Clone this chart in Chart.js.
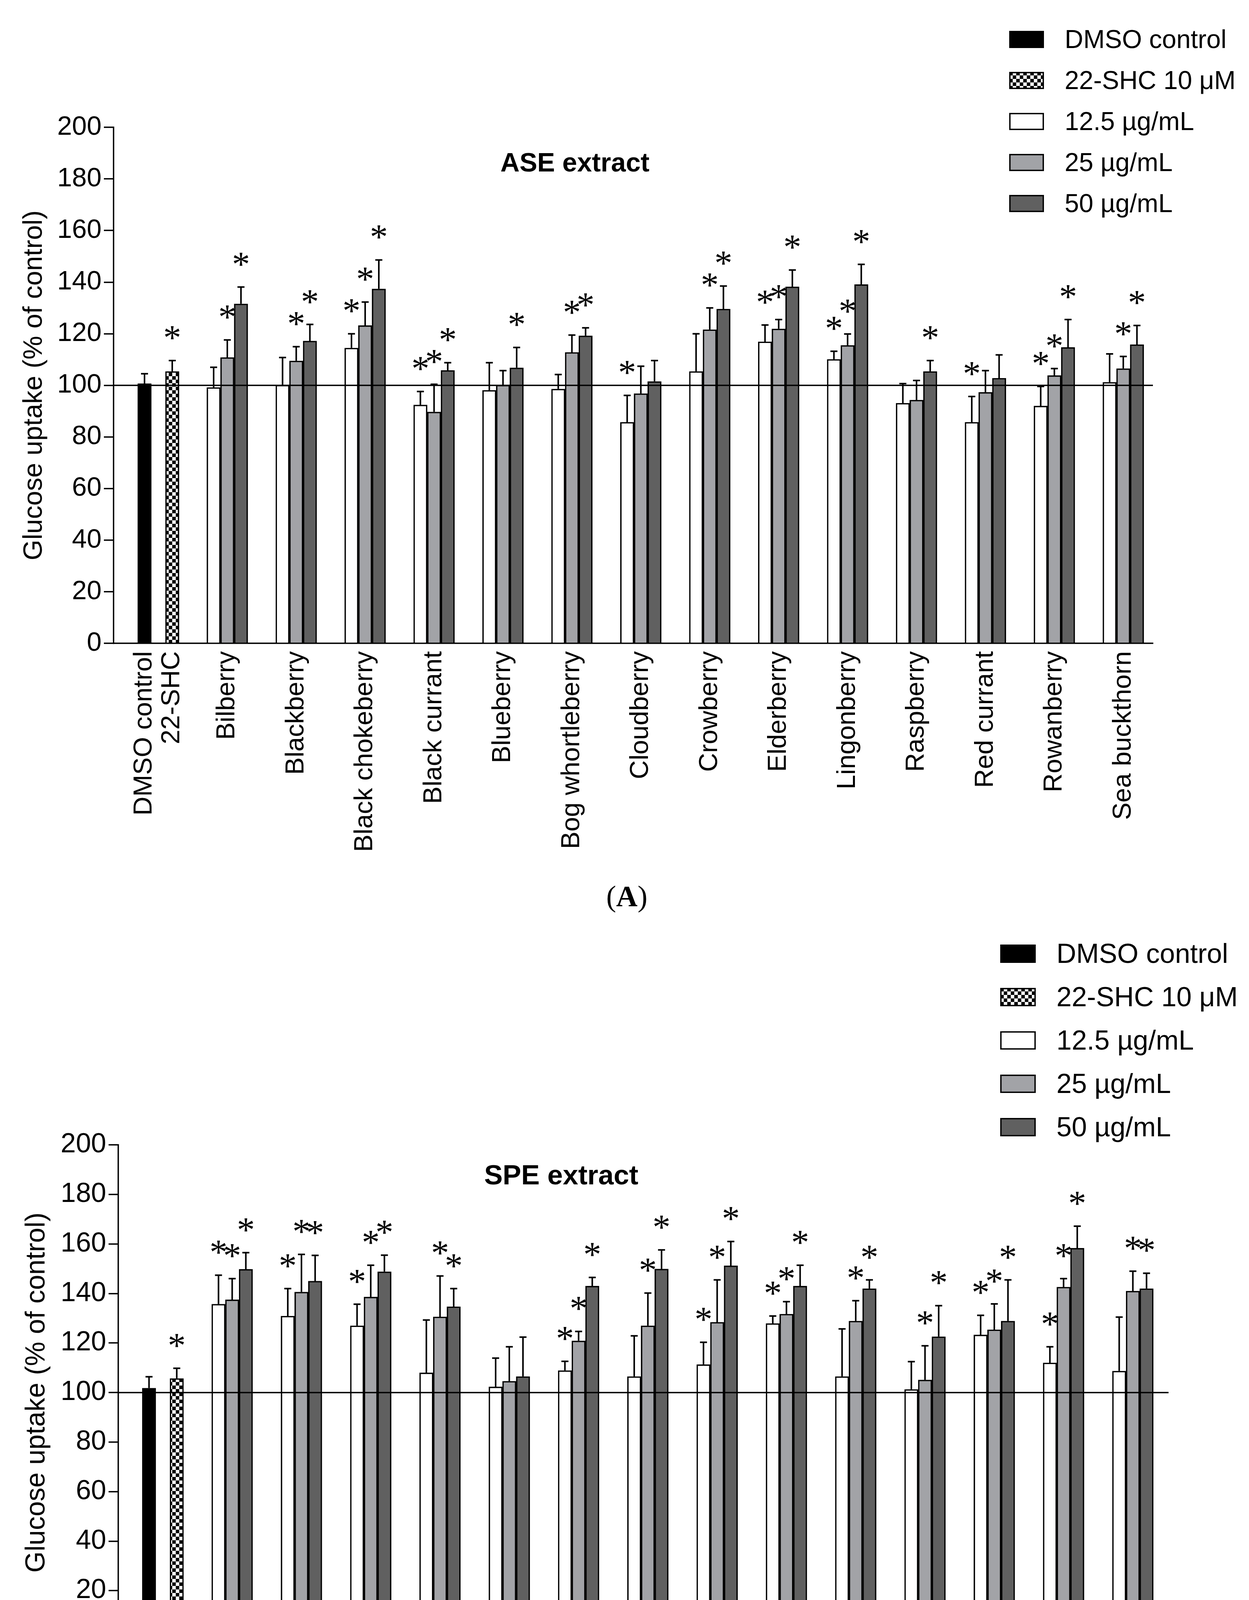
<!DOCTYPE html>
<html>
<head>
<meta charset="utf-8">
<script src="https://cdn.jsdelivr.net/npm/chart.js@4.4.1/dist/chart.umd.min.js"></script>
<style>
  body { margin: 0; background: #fff; }
  #page { position: relative; width: 3198px; height: 4947px; overflow: hidden; background: #fff;
          font-family: "Liberation Sans", Arial, sans-serif; color: #000; }
  canvas { position: absolute; left: 0; }
  .txt { position: absolute; white-space: nowrap; line-height: 1.2; }
</style>
</head>
<body>
<div id="page">
  <canvas id="chartA" width="3198" height="2230" style="top:0px"></canvas>
  <canvas id="chartB" width="3198" height="2440" style="top:2350px"></canvas>
</div>
<script>
const berries = ['Bilberry', 'Blackberry', 'Black chokeberry', 'Black currant', 'Blueberry', 'Bog whortleberry',
  'Cloudberry', 'Crowberry', 'Elderberry', 'Lingonberry', 'Raspberry', 'Red currant', 'Rowanberry', 'Sea buckthorn'];
const controlLabels = ['DMSO control', '22-SHC'];
const seriesNames = ['DMSO control', '22-SHC 10 \u03bcM', '12.5 \u00b5g/mL', '25 \u00b5g/mL', '50 \u00b5g/mL'];
const yMin = 0, yMax = 200, yStep = 20;
const refLevel = 100;

// ASE extract (A)
const aseControl = [100.7, 105.4];
const aseControlSd = [3.8, 4.2];
const aseControlSig = [0, 1];
const aseLow = [99.2, 100.1, 114.5, 92.4, 98.1, 98.6, 85.7, 105.4, 116.9, 110.1, 93.1, 85.7, 92.0, 101.2];
const aseLowSd = [7.8, 10.7, 5.5, 5.2, 10.7, 5.6, 10.4, 14.6, 6.5, 3.1, 7.6, 10.0, 7.6, 11.0];
const aseLowSig = [0, 0, 1, 1, 0, 0, 1, 0, 1, 1, 0, 1, 1, 0];
const aseMid = [110.8, 109.5, 123.2, 89.7, 100.1, 112.8, 96.8, 121.6, 121.9, 115.5, 94.3, 97.3, 103.8, 106.5];
const aseMidSd = [6.8, 5.5, 9.1, 10.7, 5.6, 6.7, 10.6, 8.4, 3.6, 4.4, 7.6, 8.4, 2.7, 4.7];
const aseMidSig = [1, 1, 1, 1, 0, 1, 0, 1, 1, 1, 0, 0, 1, 1];
const aseHigh = [131.6, 117.2, 137.4, 105.8, 106.8, 119.2, 101.5, 129.6, 138.2, 139.1, 105.4, 102.8, 114.7, 115.8];
const aseHighSd = [6.5, 6.4, 11.2, 3.0, 7.9, 3.1, 8.1, 8.9, 6.5, 7.8, 4.2, 9.0, 10.8, 7.4];
const aseHighSig = [1, 1, 1, 1, 1, 1, 0, 1, 1, 1, 1, 0, 1, 1];

// SPE extract (B)
const speControl = [101.8, 105.7];
const speControlSd = [4.6, 4.1];
const speControlSig = [0, 1];
const speLow = [135.7, 130.9, 127.0, 108.0, 102.3, 108.9, 106.5, 111.3, 127.9, 106.5, 101.3, 123.3, 112.0, 108.7];
const speLowSd = [11.7, 11.1, 8.7, 21.3, 11.6, 3.7, 16.4, 9.0, 3.0, 19.2, 11.2, 7.9, 6.5, 21.8];
const speLowSig = [1, 1, 1, 0, 0, 1, 0, 1, 1, 0, 0, 1, 1, 0];
const speMid = [137.5, 140.6, 138.6, 130.6, 104.6, 120.9, 127.0, 128.4, 131.7, 128.9, 105.1, 125.4, 142.6, 141.0];
const speMidSd = [8.5, 15.2, 12.8, 16.5, 13.9, 3.8, 13.2, 17.1, 5.0, 8.2, 13.8, 10.4, 3.4, 8.0];
const speMidSig = [1, 1, 1, 1, 0, 1, 1, 1, 1, 1, 1, 1, 1, 1];
const speHigh = [149.8, 145.0, 148.8, 134.7, 106.5, 143.0, 149.9, 151.2, 143.0, 142.0, 122.6, 128.9, 158.3, 142.0];
const speHighSd = [6.7, 10.4, 6.7, 7.3, 15.9, 3.5, 7.7, 9.8, 8.4, 3.5, 12.5, 16.6, 8.9, 6.2];
const speHighSig = [1, 1, 1, 1, 0, 1, 1, 1, 1, 1, 1, 1, 1, 1];

const fillColors = ['#000000', null, '#ffffff', '#a2a3a7', '#606060'];
const sansFamily = '"Liberation Sans", Arial, sans-serif';
const pageW = 3198;
const barW = 35;
const controlPitch = 71;

Chart.defaults.font.family = sansFamily;
Chart.defaults.color = '#000';

const page = document.getElementById('page');

function checkerTile(cell) {
  const c = document.createElement('canvas');
  c.width = c.height = cell * 2;
  const g = c.getContext('2d');
  g.fillStyle = '#fff';
  g.fillRect(0, 0, cell * 2, cell * 2);
  g.fillStyle = '#000';
  g.fillRect(0, 0, cell, cell);
  g.fillRect(cell, cell, cell, cell);
  return c;
}
const tile = checkerTile(9);

// control values sit at x = 0, berries at x = 1..14
function controlSeries(values, k) {
  return [values[k]].concat(berries.map(() => null));
}
function berrySeries(values) {
  return [null].concat(values);
}
function toPoints(arr) {
  return arr.map((v, i) => ({ x: i, y: v }));
}

function addText(html, x, y, css, center) {
  const d = document.createElement('div');
  d.className = 'txt';
  d.innerHTML = html;
  d.style.left = x + 'px';
  d.style.top = y + 'px';
  d.style.transform = center ? 'translate(-50%, -50%)' : 'translateY(-50%)';
  Object.assign(d.style, css);
  page.appendChild(d);
}

const marksPlugin = {
  id: 'marks',
  afterDatasetsDraw(chart) {
    const { ctx, chartArea, scales: { y } } = chart;
    ctx.save();
    ctx.strokeStyle = '#000';
    ctx.fillStyle = '#000';
    const ry = y.getPixelForValue(refLevel);
    ctx.lineWidth = 3.5;
    ctx.beginPath();
    ctx.moveTo(chartArea.left, ry);
    ctx.lineTo(chartArea.right, ry);
    ctx.stroke();
    ctx.font = '92px "Liberation Serif", serif';
    ctx.textAlign = 'center';
    ctx.textBaseline = 'alphabetic';
    chart.data.datasets.forEach((ds, i) => {
      const bars = chart.getDatasetMeta(i).data;
      ds.data.forEach((pt, j) => {
        if (pt.y === null) return;
        const bar = bars[j];
        const top = y.getPixelForValue(pt.y + ds.sd[j]);
        ctx.lineWidth = 4;
        ctx.beginPath();
        ctx.moveTo(bar.x, bar.y);
        ctx.lineTo(bar.x, top);
        ctx.moveTo(bar.x - 9, top);
        ctx.lineTo(bar.x + 9, top);
        ctx.stroke();
        if (ds.sig[j]) ctx.fillText('*', bar.x, top - 28);
      });
    });
    ctx.restore();
  }
};

function makePanel(p) {
  const canvas = document.getElementById(p.id);
  const ctx = canvas.getContext('2d');
  const pattern = ctx.createPattern(tile, 'repeat');
  const H = canvas.height;

  const values = [controlSeries(p.control, 0), controlSeries(p.control, 1), berrySeries(p.low), berrySeries(p.mid), berrySeries(p.high)];
  const sds = [controlSeries(p.controlSd, 0), controlSeries(p.controlSd, 1), berrySeries(p.lowSd), berrySeries(p.midSd), berrySeries(p.highSd)];
  const sigs = [controlSeries(p.controlSig, 0), controlSeries(p.controlSig, 1), berrySeries(p.lowSig), berrySeries(p.midSig), berrySeries(p.highSig)];

  const datasets = seriesNames.map((name, k) => ({
    label: name,
    data: toPoints(values[k]),
    sd: sds[k],
    sig: sigs[k],
    backgroundColor: fillColors[k] || pattern,
    borderColor: '#000',
    borderWidth: 3.5,
    borderSkipped: 'start',
    barThickness: k < 2 ? controlPitch : barW,
    maxBarThickness: barW,
    skipNull: true
  }));

  const pxPerUnit = (p.right - p.left) / (p.xMax - p.xMin);
  const half = controlPitch / 2 / pxPerUnit;
  const xTickValues = [-half, half].concat(berries.map((b, i) => i + 1));
  const xLabels = controlLabels.concat(berries);

  new Chart(ctx, {
    type: 'bar',
    data: { datasets },
    options: {
      responsive: false,
      animation: false,
      devicePixelRatio: 1,
      layout: { padding: { left: 0, top: p.top, right: pageW - p.right, bottom: 0 } },
      plugins: { legend: { display: false }, tooltip: { enabled: false } },
      scales: {
        x: {
          type: 'linear',
          min: p.xMin,
          max: p.xMax,
          bounds: 'data',
          offset: false,
          grid: { display: false, drawTicks: false, offset: false },
          border: { display: true, color: '#000', width: 3.5 },
          ticks: {
            autoSkip: false,
            minRotation: 90,
            maxRotation: 90,
            padding: p.labelPad,
            color: '#000',
            font: { size: p.labelSize },
            callback: (v, i) => xLabels[i]
          },
          afterBuildTicks: s => { s.ticks = xTickValues.map(v => ({ value: v })); },
          afterFit: s => { s.height = H - p.bottom; }
        },
        y: {
          min: yMin,
          max: yMax,
          ticks: { stepSize: yStep, padding: 6, color: '#000', font: { size: p.fontSize } },
          grid: { drawOnChartArea: false, tickLength: 25, color: '#000', lineWidth: 3.5 },
          border: { display: true, color: '#000', width: 3.5 },
          title: {
            display: true,
            text: 'Glucose uptake (% of control)',
            color: '#000',
            font: { size: p.fontSize },
            padding: { top: p.titlePad, bottom: 0 }
          },
          afterFit: s => { s.width = p.left; }
        }
      }
    },
    plugins: [marksPlugin]
  });

  // legend
  seriesNames.forEach((name, k) => {
    const rowY = p.legend.y0 + p.legend.dy * k;
    const sw = document.createElement('canvas');
    sw.width = p.legend.w;
    sw.height = p.legend.h;
    sw.style.left = p.legend.x + 'px';
    sw.style.top = (rowY - p.legend.h / 2) + 'px';
    const g = sw.getContext('2d');
    g.fillStyle = fillColors[k] || g.createPattern(tile, 'repeat');
    g.fillRect(0, 0, sw.width, sw.height);
    g.strokeStyle = '#000';
    g.lineWidth = 3.5;
    g.strokeRect(1.75, 1.75, sw.width - 3.5, sw.height - 3.5);
    page.appendChild(sw);
    addText(name, p.legend.textX, rowY, { fontSize: p.legend.font + 'px' }, false);
  });

  addText(p.title, p.titleX, p.titleY, { fontSize: p.titleSize + 'px', fontWeight: 'bold' }, true);
  addText('(<b>' + p.caption + '</b>)', p.capX, p.capY,
    { fontSize: '76px', fontFamily: '"Liberation Serif", "Times New Roman", serif' }, true);
}

makePanel({
  id: 'chartA',
  control: aseControl, controlSd: aseControlSd, controlSig: aseControlSig,
  low: aseLow, lowSd: aseLowSd, lowSig: aseLowSig,
  mid: aseMid, midSd: aseMidSd, midSig: aseMidSig,
  high: aseHigh, highSd: aseHighSd, highSig: aseHighSig,
  top: 326, bottom: 1647, left: 291, right: 2952,
  xMin: -0.649, xMax: 14.43,
  fontSize: 68, labelSize: 67, labelPad: 20, titlePad: 47,
  title: 'ASE extract', titleX: 1472, titleY: 416, titleSize: 68,
  caption: 'A', capX: 1605, capY: 2295,
  legend: { x: 2584, w: 89, h: 44, textX: 2726, y0: 101, dy: 105, font: 66 }
});

makePanel({
  id: 'chartB',
  control: speControl, controlSd: speControlSd, controlSig: speControlSig,
  low: speLow, lowSd: speLowSd, lowSig: speLowSig,
  mid: speMid, midSd: speMidSd, midSig: speMidSig,
  high: speHigh, highSd: speHighSd, highSig: speHighSig,
  top: 581, bottom: 1849, left: 303, right: 2992,
  xMin: -0.643, xMax: 14.515,
  fontSize: 70, labelSize: 69, labelPad: 30, titlePad: 53,
  title: 'SPE extract', titleX: 1437, titleY: 3008, titleSize: 71,
  caption: 'B', capX: 1606, capY: 4865,
  legend: { x: 2561, w: 91, h: 47, textX: 2705, y0: 2441, dy: 111, font: 70 }
});
</script>
</body>
</html>
